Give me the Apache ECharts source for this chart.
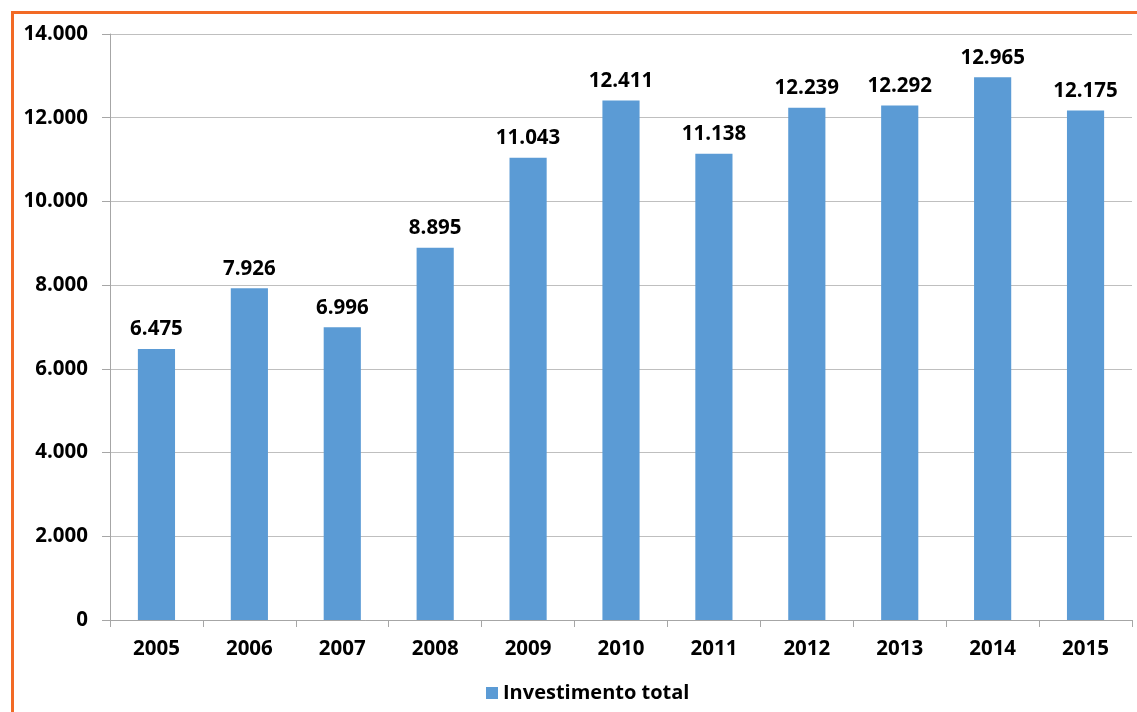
<!DOCTYPE html>
<html>
<head>
<meta charset="utf-8">
<script src="https://cdn.jsdelivr.net/npm/echarts@6/dist/echarts.min.js"></script>
<style>
  html, body { margin: 0; padding: 0; background: #fff; }
  #frame { position: absolute; left: 11px; top: 11px; width: 1126px; height: 701px;
           border-left: 3px solid #F26A25; border-top: 3px solid #F26A25; box-sizing: border-box; }
  #chart { position: absolute; left: 0; top: 0; width: 1137px; height: 712px; }
</style>
</head>
<body>
<div id="frame"></div>
<div id="chart"></div>
<script>
// Investimento total por ano
const years = ['2005', '2006', '2007', '2008', '2009', '2010', '2011', '2012', '2013', '2014', '2015'];
const investimento = [6475, 7926, 6996, 8895, 11043, 12411, 11138, 12239, 12292, 12965, 12175];
const seriesName = 'Investimento total';

const FONT = '"Open Sans", "Liberation Sans", sans-serif';
const FS = 20.5;
const fmt = v => String(v).replace(/\B(?=(\d{3})+(?!\d))/g, '.');

const chart = echarts.init(document.getElementById('chart'));
chart.setOption({
  animation: false,
  textStyle: { fontFamily: FONT },
  grid: { left: 110, right: 5, top: 34, bottom: 92, containLabel: false },
  legend: {
    data: [seriesName],
    bottom: 4,
    left: 481,
    itemWidth: 12,
    itemHeight: 12,
    itemGap: 8,
    icon: 'rect',
    textStyle: { fontFamily: FONT, fontWeight: 'bold', fontSize: 20, color: '#000' }
  },
  xAxis: {
    type: 'category',
    data: years,
    axisLine: { lineStyle: { color: '#A6A6A6', width: 1 } },
    axisTick: { show: true, length: 7, alignWithLabel: false, lineStyle: { color: '#A6A6A6' } },
    axisLabel: { color: '#000', fontWeight: 'bold', fontSize: FS, margin: 19, fontFamily: FONT }
  },
  yAxis: {
    type: 'value',
    min: 0,
    max: 14000,
    interval: 2000,
    axisLine: { show: true, lineStyle: { color: '#A6A6A6', width: 1 } },
    axisTick: { show: true, length: 8, lineStyle: { color: '#A6A6A6' } },
    splitLine: { lineStyle: { color: '#BFBFBF', width: 1 } },
    axisLabel: { color: '#000', fontWeight: 'bold', fontSize: FS, margin: 22, fontFamily: FONT,
                 formatter: v => fmt(v) }
  },
  series: [{
    name: seriesName,
    type: 'bar',
    data: investimento,
    barWidth: '40%',
    itemStyle: { color: '#5B9BD5' },
    label: {
      show: true,
      position: 'top',
      distance: 9,
      color: '#000',
      fontWeight: 'bold',
      fontSize: FS,
      fontFamily: FONT,
      formatter: p => fmt(p.value)
    }
  }]
});
</script>
</body>
</html>
